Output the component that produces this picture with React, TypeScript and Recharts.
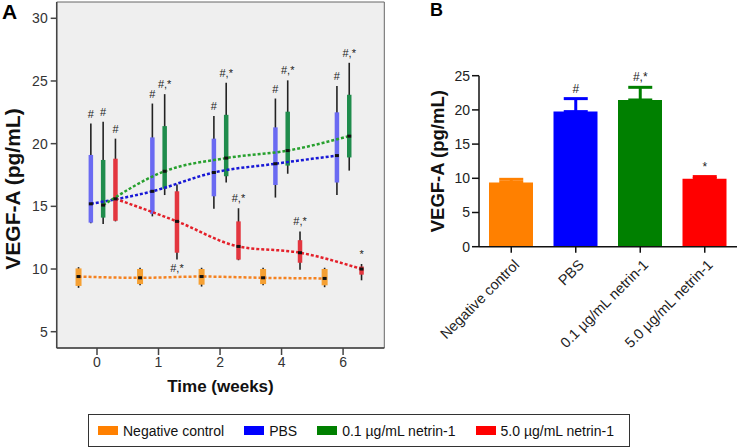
import React from 'react';
import {
  ComposedChart,
  Scatter,
  Line,
  Bar,
  Cell,
  XAxis,
  YAxis,
  ErrorBar,
  ReferenceArea,
  CartesianGrid,
  Label,
} from 'recharts';

const FONT = '"Liberation Sans", Arial, sans-serif';

// ---- panel A: VEGF-A over time (box plots) ----
const weeks = ['0', '1', '2', '4', '6'];
const groupNames = ['Negative control', 'PBS', '0.1 µg/mL netrin-1', '5.0 µg/mL netrin-1'];

const ctrlMean = [9.4, 9.3, 9.4, 9.3, 9.25];
const ctrlQ1 = [8.65, 8.8, 8.75, 8.8, 8.7];
const ctrlQ3 = [10.05, 10.0, 10.0, 10.0, 10.0];
const ctrlMin = [8.5, 8.7, 8.6, 8.7, 8.55];
const ctrlMax = [10.15, 10.1, 10.1, 10.1, 10.1];

const pbsMean = [15.2, 16.2, 17.7, 18.4, 19.05];
const pbsQ1 = [13.7, 14.4, 15.8, 16.7, 16.9];
const pbsQ3 = [19.1, 20.5, 20.4, 21.3, 22.5];
const pbsMin = [13.65, 14.2, 14.8, 15.7, 15.9];
const pbsMax = [21.6, 23.2, 22.2, 23.6, 24.6];
const pbsMarks = ['#', '#', '#', '#', '#'];

const lowMean = [15.1, 17.8, 18.85, 19.45, 20.6];
const lowQ1 = [14.1, 16.4, 17.4, 18.25, 18.9];
const lowQ3 = [18.7, 21.4, 22.3, 22.55, 23.9];
const lowMin = [13.6, 15.9, 16.9, 17.6, 17.85];
const lowMax = [21.75, 23.95, 24.85, 25.05, 26.45];
const lowMarks = ['#', '#,*', '#,*', '#,*', '#,*'];

const highMean = [15.6, 13.8, 11.8, 11.3, 10.0];
const highQ1 = [13.85, 11.3, 10.75, 10.5, 9.55];
const highQ3 = [18.8, 16.2, 13.8, 12.3, 10.2];
const highMin = [13.8, 10.75, 10.7, 9.95, 9.1];
const highMax = [20.4, 16.75, 14.85, 13.0, 10.4];
const highMarks = ['#', '#,*', '#,*', '#,*', '*'];
const highMarkBelow = [false, true, false, false, false];

const slot = [-0.3, -0.1, 0.1, 0.3];

// ---- panel B: bar chart ----
const barMeans = [9.4, 19.75, 21.45, 9.95];
const barErrs = [0.45, 1.9, 1.85, 0.3];
const barMarks = ['', '#', '#,*', '*'];
const barColors = ['#FF8000', '#0000FF', '#008000', '#FF0000'];

const makeRows = (mean: number[], q1: number[], q3: number[], lo: number[], hi: number[], k: number) =>
  mean.map((m, i) => ({
    x: i + slot[k],
    mean: m,
    box: [m - q1[i], q3[i] - m],
    whisker: [m - lo[i], hi[i] - m],
  }));

const series = [
  { rows: makeRows(ctrlMean, ctrlQ1, ctrlQ3, ctrlMin, ctrlMax, 0), box: '#f5a033', line: '#f58220', w: 6 },
  { rows: makeRows(pbsMean, pbsQ1, pbsQ3, pbsMin, pbsMax, 1), box: '#6a6af2', line: '#1717d6', w: 4.5 },
  { rows: makeRows(lowMean, lowQ1, lowQ3, lowMin, lowMax, 2), box: '#1f8c4c', line: '#27a02e', w: 4.5 },
  { rows: makeRows(highMean, highQ1, highQ3, highMin, highMax, 3), box: '#e3363f', line: '#e4202a', w: 4.5 },
];

const markRows = [
  ...pbsMarks.map((t, i) => ({ x: i + slot[1], y: pbsMax[i], text: t, below: false })),
  ...lowMarks.map((t, i) => ({ x: i + slot[2], y: lowMax[i], text: t, below: false })),
  ...highMarks.map((t, i) => ({
    x: i + slot[3],
    y: highMarkBelow[i] ? highMin[i] : highMax[i],
    text: t,
    below: highMarkBelow[i],
  })),
];

const barRows = groupNames.map((name, i) => ({
  name,
  value: barMeans[i],
  err: [0, barErrs[i]],
  top: barMeans[i] + barErrs[i],
  mark: barMarks[i],
}));

const MeanShape = (p: any) => <rect x={p.cx - 2} y={p.cy - 1.5} width={4} height={3} fill="#111" />;
const NoShape = () => <g />;

const MarkShape = (p: any) => (
  <text
    x={p.cx}
    y={p.payload.below ? p.cy + 12 : p.cy - 6}
    textAnchor="middle"
    fontSize={11}
    fontFamily={FONT}
    fill="#222"
  >
    {p.payload.text}
  </text>
);

const BarMarkShape = (p: any) => (
  <text x={p.cx} y={p.cy - 6} textAnchor="middle" fontSize={12} fontFamily={FONT} fill="#222">
    {p.payload.mark}
  </text>
);

const SlantTick = (p: any) => (
  <g transform={`translate(${p.x + 9},${p.y + 11})`}>
    <text textAnchor="end" transform="rotate(-45)" fontSize={14.5} fontFamily={FONT} fill="#222">
      {p.payload.value}
    </text>
  </g>
);

const yTitle = (cx: number, dy: number, size: number) => (props: any) => {
  const vb = props.viewBox;
  const cy = vb.y + vb.height / 2 + dy;
  return (
    <text
      x={cx}
      y={cy}
      transform={`rotate(-90, ${cx}, ${cy})`}
      textAnchor="middle"
      dominantBaseline="central"
      fontSize={size}
      fontWeight="bold"
      fontFamily={FONT}
      fill="#111"
    >
      VEGF-A (pg/mL)
    </text>
  );
};

const xTitle = (props: any) => {
  const vb = props.viewBox;
  return (
    <text
      x={vb.x + vb.width / 2}
      y={vb.y + 44}
      textAnchor="middle"
      fontSize={17}
      fontWeight="bold"
      fontFamily={FONT}
      fill="#111"
    >
      Time (weeks)
    </text>
  );
};

export default function App() {
  return (
    <div
      style={{
        position: 'absolute',
        left: 0,
        top: 0,
        width: 738,
        height: 448,
        background: '#fff',
        overflow: 'hidden',
        fontFamily: FONT,
      }}
    >
      <div style={{ position: 'absolute', left: 2, top: 1, fontSize: 21, lineHeight: 1, fontWeight: 'bold' }}>A</div>
      <div style={{ position: 'absolute', left: 430, top: 1, fontSize: 18, lineHeight: 1, fontWeight: 'bold' }}>B</div>

      <div style={{ position: 'absolute', left: 0, top: 0 }}>
        <ComposedChart width={400} height={400} margin={{ top: 2, right: 15.7, left: 0, bottom: 0 }}>
          <CartesianGrid horizontal={false} vertical={false} fill="#efefef" />
          <XAxis
            type="number"
            dataKey="x"
            domain={[-0.655, 4.67]}
            allowDataOverflow
            ticks={[0, 1, 2, 3, 4]}
            interval={0}
            tickFormatter={(v: number) => weeks[v]}
            tickSize={7}
            height={52}
            stroke="#444"
            strokeWidth={1.5}
            tick={{ fontSize: 14, fill: '#333', fontFamily: FONT }}
          >
            <Label content={xTitle} />
          </XAxis>
          <YAxis
            type="number"
            domain={[3.7, 31.3]}
            allowDataOverflow
            ticks={[5, 10, 15, 20, 25, 30]}
            interval={0}
            width={56.7}
            tickSize={6}
            tickMargin={3}
            stroke="#444"
            strokeWidth={1.5}
            tick={{ fontSize: 14, fill: '#333', fontFamily: FONT }}
          >
            <Label content={yTitle(12, 14, 21)} />
          </YAxis>
          <ReferenceArea x1={-0.655} x2={4.67} y1={3.7} y2={31.3} fill="none" stroke="#666" strokeWidth={1} />
          {series.map((s, k) => (
            <Scatter
              key={`box-${k}`}
              data={s.rows}
              dataKey="mean"
              shape={MeanShape}
              isAnimationActive={false}
            >
              <ErrorBar dataKey="whisker" direction="y" width={0} stroke="#222" strokeWidth={1.6} />
              <ErrorBar dataKey="box" direction="y" width={0} stroke={s.box} strokeWidth={s.w} />
            </Scatter>
          ))}
          {series.map((s, k) => (
            <Line
              key={`trend-${k}`}
              data={s.rows}
              dataKey="mean"
              type="monotone"
              stroke={s.line}
              strokeWidth={2.5}
              strokeDasharray="3 2"
              dot={false}
              activeDot={false}
              isAnimationActive={false}
            />
          ))}
          <Scatter data={markRows} dataKey="y" shape={MarkShape} isAnimationActive={false} />
        </ComposedChart>
      </div>

      <div style={{ position: 'absolute', left: 400, top: 0 }}>
        <ComposedChart
          width={338}
          height={360}
          data={barRows}
          margin={{ top: 75.7, right: 1, left: 0, bottom: 0 }}
        >
          <XAxis
            dataKey="name"
            allowDuplicatedCategory={false}
            interval={0}
            height={113.3}
            tickSize={6}
            stroke="#111"
            strokeWidth={1.5}
            tick={SlantTick}
          />
          <YAxis
            domain={[0, 25]}
            ticks={[0, 5, 10, 15, 20, 25]}
            interval={0}
            width={79}
            tickSize={7}
            tickMargin={2}
            stroke="#111"
            strokeWidth={1.5}
            tick={{ fontSize: 14, fill: '#222', fontFamily: FONT }}
          >
            <Label content={yTitle(38, 0, 18.5)} />
          </YAxis>
          <Bar dataKey="value" barSize={44} isAnimationActive={false}>
            {barRows.map((r, i) => (
              <Cell key={r.name} fill={barColors[i]} />
            ))}
          </Bar>
          {barRows.map((r, i) => (
            <Scatter
              key={`err-${i}`}
              data={[r]}
              dataKey="value"
              shape={NoShape}
              isAnimationActive={false}
            >
              <ErrorBar dataKey="err" direction="y" width={12} stroke={barColors[i]} strokeWidth={3} />
            </Scatter>
          ))}
          <Scatter data={barRows} dataKey="top" shape={BarMarkShape} isAnimationActive={false} />
        </ComposedChart>
      </div>

      <div
        style={{
          position: 'absolute',
          left: 88,
          top: 414,
          width: 542,
          height: 33,
          boxSizing: 'border-box',
          border: '1px solid #333',
          display: 'flex',
          alignItems: 'center',
          paddingLeft: 9,
          gap: 20,
          fontSize: 14,
          color: '#111',
        }}
      >
        {groupNames.map((g, i) => (
          <div key={g} style={{ display: 'flex', alignItems: 'center' }}>
            <div style={{ width: 20, height: 9, background: barColors[i], marginRight: 5 }} />
            <span>{g}</span>
          </div>
        ))}
      </div>
    </div>
  );
}
